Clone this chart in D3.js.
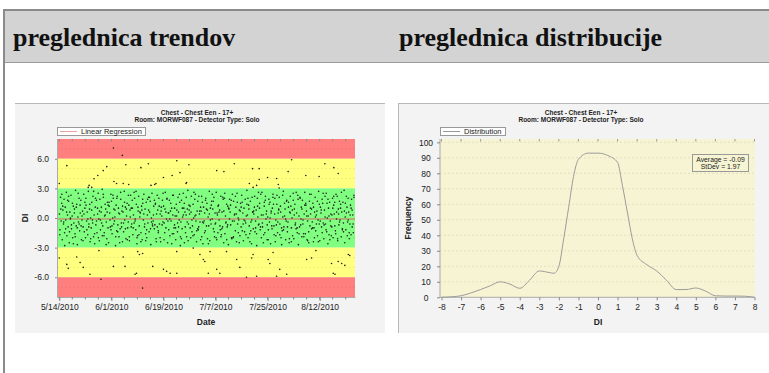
<!DOCTYPE html>
<html>
<head>
<meta charset="utf-8">
<script src="https://cdn.jsdelivr.net/npm/d3@7"></script>
<style>
body { margin: 0; background: #fff; }
svg { display: block; }
</style>
</head>
<body>
<script>
// header texts
var headers = ["preglednica trendov", "preglednica distribucije"];
var titleLine1 = "Chest  -  Chest Een  -  17+";
var titleLine2 = "Room: MORWF087  -  Detector Type: Solo";

// trend chart: x tick dates, y ticks, band limits
var dateTicks = ["2010-05-14", "2010-06-01", "2010-06-19", "2010-07-07", "2010-07-25", "2010-08-12"];
var diTicks = [6, 3, 0, -3, -6];
var bands = [[6, 8, "#ff7f7f"], [3, 6, "#ffff80"], [-3, 3, "#80ff80"], [-6, -3, "#ffff80"], [-8, -6, "#ff7f7f"]];
var regression = -0.1;

// readings outside the green band: [days after 5/14/2010, DI]
var outliers = [[18.7,7.09],[21.8,6.34],[2.6,5.3],[16.4,5.2],[15.2,4.8],[13.3,4.3],[12,3.98],[10,3.1],[11.2,3.1],
  [0,3.5],[23,5.4],[18.9,3.7],[19.8,3.5],[28.2,5.1],[30.8,5.5],[31.7,3.3],[33.4,3.5],[36,4.1],[39,4.3],
  [40.6,5.8],[41.7,4.6],[43.8,3.5],[44.8,5.4],[54.4,4.8],[56.9,4.7],[60.5,5.5],[66.8,5.0],[69.1,5.0],
  [72,4.1],[75.1,4.0],[76,3.04],[79.1,4.7],[80.3,5.9],[85.2,4.3],[89.8,4.2],[91.8,5.5],[94.9,5.1],[96.4,4.5],
  [65.7,3.5],[67,3.1],[68.2,3.3],[10.3,3.3],[22.1,3.5],[24,3.4],[33,3.4],[44,3.6],[69.1,3.9],[75.7,3.4],
  [0,-4.05],[2.6,-4.7],[3.1,-5.1],[6,-3.95],[7.2,-4.5],[8.3,-5.0],[10.6,-5.7],[13.7,-3.3],[14.4,-6.2],
  [18.7,-4.9],[22.1,-3.95],[22.7,-4.9],[26.2,-5.7],[26.7,-5.6],[27.1,-3.4],[27.7,-3.7],[28.8,-3.6],
  [28.8,-7.1],[32.3,-4.9],[36,-5.2],[37.1,-5.4],[38.3,-5.6],[40.6,-5.6],[40.6,-3.4],[46.3,-3.05],
  [48.6,-3.7],[49.8,-4.2],[50.3,-4.4],[51.5,-5.6],[52.1,-3.4],[54.4,-5.2],[55.5,-5.6],[57.8,-3.4],
  [61.3,-4.2],[62.4,-5.0],[64.7,-6.0],[66.5,-4.05],[67,-3.7],[68.2,-5.9],[72.2,-4.2],[72.8,-4.6],
  [73.9,-3.5],[75.1,-5.9],[76.2,-5.2],[78.6,-5.7],[85.5,-4.2],[87.2,-4.05],[88.7,-3.3],[94.1,-4.6],
  [94.7,-5.6],[95.3,-5.7],[96.4,-4.4],[97.6,-4.6],[98.7,-4.8],[99.9,-3.7],[100.4,-3.8]];

// readings inside the green band, one list per day starting 5/14/2010 (morning exams)
var greenByDay = [
  [0.4,-1.2,2.1,-0.3,1.5],[-2.2,0.8,-0.6,1.9,-1.5],[1.1,-0.2,2.6,-1.8,0.3],[-0.9,1.7,-2.5,0.6,-0.1],
  [2.3,-1.1,0.2,-2.0,1.2],[-0.5,0.9,-1.6,2.8,-0.8],[1.4,-2.7,0.1,-0.4,2.0],[-1.3,0.5,1.8,-2.2,-0.2],
  [0.7,-0.9,2.4,-1.4,1.0],[-2.0,1.3,-0.3,0.6,-1.7],[2.7,-0.6,0.9,-2.4,0.0],[-1.0,1.6,-0.2,2.2,-1.9],
  [0.3,-2.6,1.1,-0.7,1.8],[-1.5,0.4,2.5,-0.1,-2.3],[1.9,-1.2,0.6,-0.5,2.9],[-0.8,2.1,-1.8,0.2,1.4],
  [0.9,-0.4,-2.1,1.6,-1.0],[-2.5,1.2,0.5,-0.9,2.4],[1.7,-1.6,0.0,2.0,-0.6],[-0.3,0.8,-2.8,1.3,-1.3],
  [2.2,-0.7,1.0,-1.9,0.4],[-1.1,1.9,-0.5,0.7,-2.4],[0.6,-1.4,2.7,-0.2,1.1],[-2.1,0.2,1.5,-1.0,-0.4],
  [1.3,-2.3,0.8,2.3,-0.9],[-0.6,1.0,-1.7,0.3,2.6],[2.0,-0.1,-1.2,1.4,-2.6],[-1.8,0.7,2.2,-0.8,0.1],
  [0.5,-1.5,1.2,-2.2,1.9],[-0.2,2.4,-0.9,0.9,-1.6],[1.6,-2.0,0.3,-0.5,2.1],[-1.4,0.6,1.7,-2.7,0.0],
  [2.5,-0.8,-0.3,1.2,-1.1],[-0.7,1.5,-2.1,0.4,2.3],[0.8,-1.3,2.0,-0.6,-2.0],[-2.4,1.1,0.2,1.8,-0.4],
  [1.2,-0.5,-1.5,2.6,0.6],[-0.1,2.0,-2.5,0.5,-1.2],[1.8,-1.8,0.7,-0.3,1.0],[-1.6,0.3,2.3,-1.0,-0.7],
  [0.2,-2.2,1.4,0.8,-1.4],[2.1,-0.9,-0.2,1.6,-2.8],[-0.4,1.8,-1.1,0.1,2.5],[1.0,-2.5,0.6,-1.5,0.3],
  [-1.9,0.9,2.8,-0.6,1.3],[0.4,-1.0,-2.0,2.2,-0.2],[-0.8,1.4,0.0,-1.7,1.9],[2.4,-0.3,-2.4,0.7,-1.1],
  [-1.2,2.2,0.4,-0.4,1.1],[0.7,-1.9,1.6,-2.6,-0.5],[-0.3,0.5,-1.3,2.0,0.9],[1.5,-2.1,0.1,-0.8,2.7],
  [-2.3,1.0,-0.6,1.7,-0.1],[0.9,-1.1,2.1,-1.9,0.5],[-0.5,2.6,-2.2,0.3,-1.5],[1.3,-0.2,0.8,-1.2,2.2],
  [-1.7,0.6,-0.9,1.9,-2.5],[2.0,-1.6,0.2,-0.4,1.4],[-0.9,1.2,-2.7,0.9,-0.1],[0.6,-0.7,1.8,-2.1,2.4],
  [-2.0,1.7,-0.3,0.4,-1.3],[1.1,-2.4,2.5,-0.6,0.0],[-0.2,0.8,-1.8,1.5,-0.9],[2.3,-1.3,0.5,-2.3,1.0],
  [-1.4,1.9,-0.5,0.2,2.8],[0.3,-2.0,1.3,-0.8,-1.6],[1.7,-0.4,-2.6,2.1,0.6],[-1.1,0.4,1.1,-1.4,-0.3],
  [0.8,-2.8,2.0,0.1,-0.7],[-0.6,1.5,-1.2,2.4,-2.0],[2.6,-0.9,0.3,-1.7,1.2],[-1.5,2.2,-0.1,0.7,-2.2],
  [0.1,-1.2,1.9,-0.4,1.6],[-2.6,0.7,-0.8,1.0,2.1],[1.4,-1.7,0.4,-2.4,-0.2],[-0.7,2.3,-1.5,0.5,0.9],
  [2.1,-0.6,1.2,-2.0,-1.0],[-1.3,0.1,2.7,-0.9,1.5],[0.9,-2.2,-0.3,1.8,-1.4],[-0.4,1.6,-2.5,0.6,2.2],
  [1.2,-1.0,0.0,-1.8,2.5],[-2.1,0.9,1.4,-0.5,-1.1],[0.5,-1.5,2.3,-2.7,0.2],[-0.9,2.0,-0.7,1.1,-1.9],
  [1.8,-0.2,-1.6,0.4,2.6],[-1.6,1.3,0.7,-2.2,-0.3],[0.2,-2.5,1.7,-0.8,1.0],[2.4,-1.1,-0.4,1.5,-2.4],
  [-1.0,0.6,2.1,-1.3,0.3],[0.7,-1.8,-0.2,2.7,-0.6],[-2.3,1.1,0.5,-0.9,1.9],[1.5,-0.5,-2.1,0.8,2.2],
  [-0.6,2.5,-1.4,0.0,-2.6],[1.0,-1.7,1.6,-0.3,0.4],[-1.8,0.3,2.0,-2.0,1.3],[0.4,-0.8,-1.3,2.4,-0.1],
  [2.2,-2.3,0.9,-0.7,1.7],[-0.2,1.4,-1.9,0.6,-1.2],[1.6,-1.4,2.8,-2.5,0.1],[-1.2,0.5,1.1,-0.4,2.0],
  [0.6,-2.1,-0.6,1.3,-1.7],[1.9,-0.9,0.3,-1.5,2.3]];

// more readings inside the green band, per day (afternoon exams)
var greenByDayLate = [
  [-1.7,0.9,2.4],[1.2,-0.4,-2.8],[-1.1,0.6,1.8],[2.2,-1.4,0.0],[-0.7,1.5,-2.6],[0.5,-1.9,1.1],
  [-1.0,2.5,-0.6],[1.3,-0.8,0.2],[-2.3,0.4,1.6],[2.0,-1.2,-0.1],[-0.9,1.4,-2.1],[0.8,-0.5,2.7],
  [-1.6,2.0,-0.3],[1.0,-2.0,0.7],[-0.2,1.1,-1.8],[2.4,-1.5,0.3],[-2.7,0.6,1.3],[1.6,-0.2,-1.2],
  [-0.8,2.3,0.9],[0.1,-1.9,2.0],[-1.4,0.5,-2.5],[2.6,-0.9,1.2],[-0.5,1.6,-1.1],[0.9,-2.2,2.3],
  [-1.9,0.1,1.0],[1.8,-1.0,-0.5],[-0.3,2.7,-2.0],[1.1,-1.7,0.6],[-2.4,0.8,1.5],[0.4,-0.6,-2.3],
  [-1.2,1.9,0.8],[2.1,-1.1,-0.4],[-0.6,0.3,1.8],[1.4,-2.4,-0.9],[-1.5,1.2,0.4],[0.7,-0.7,2.5],
  [-2.2,0.9,-1.0],[1.9,-0.3,0.5],[-0.1,1.5,-2.6],[2.3,-1.6,1.0],[-1.0,0.2,-0.5],[0.6,2.4,-1.9],
  [-2.1,1.0,0.3],[1.5,-0.9,2.1],[-0.4,-2.3,0.8],[1.2,0.6,-1.4],[-1.8,2.6,0.2],[0.3,-1.3,1.7],
  [-0.9,0.7,-2.2],[2.2,-0.4,1.1],[-1.5,1.8,-0.8],[0.8,-2.6,0.4],[-0.2,1.3,2.4],[1.7,-1.4,-0.6],
  [-2.0,0.5,1.2],[0.6,-0.8,-1.9],[-1.1,2.1,0.7],[2.5,-0.5,-2.2],[-0.7,1.0,1.9],[1.3,-2.0,-0.3],
  [-1.9,0.3,2.2],[0.4,1.6,-1.5],[-2.5,0.7,1.1],[1.6,-0.6,-0.2],[-0.3,-1.7,1.4],[2.0,0.9,-2.4],
  [-1.3,-0.2,0.6],[0.7,2.2,-1.0],[-1.6,1.2,2.6],[1.0,-0.9,0.3],[-0.5,-2.5,1.6],[1.8,0.4,-0.7],
  [-2.2,1.4,0.0],[0.5,-1.1,2.4],[-0.8,2.0,-1.8],[1.4,-0.4,0.8],[-1.7,0.6,-2.7],[2.3,-1.2,0.2],
  [-0.1,1.7,-0.9],[1.1,-2.1,0.5],[-2.4,0.8,1.8],[0.3,-0.7,2.6],[-1.0,1.9,-1.6],[2.1,-0.1,0.9],
  [-0.6,-1.9,1.3],[1.5,0.2,-2.3],[-1.4,2.4,0.4],[0.9,-1.0,1.1],[-2.0,0.1,-0.6],[1.7,-2.4,1.4],
  [-0.3,0.8,-1.5],[2.5,-0.7,0.1],[-1.2,1.5,1.9],[0.2,-2.2,-0.8],[-0.9,1.0,2.2],[1.6,-1.6,0.6],
  [-2.1,0.4,-0.4],[1.0,2.6,-1.1],[-0.5,0.7,1.5],[2.2,-1.8,-0.2],[-1.5,0.3,1.0],[0.8,-0.6,2.1]];

// distribution chart
var distDI = [-8,-7.5,-7,-6.5,-6,-5.5,-5,-4.5,-4,-3.5,-3,-2.5,-2.25,-2,-1.75,-1.5,-1.25,-1,-0.5,0,0.5,1,1.25,1.5,1.75,2,2.5,3,3.5,4,4.5,5,5.5,6,6.5,7,7.5,8];
var distFreq = [0,0.3,1,2.8,5,7.5,10,8.5,5.8,11,17,16,15.5,20,38,58,78,89,93,93,91.5,87,72,55,38,27,21,17,11,5,5,6,4,1,0.8,0.8,0.7,0];
var freqTicks = [0,10,20,30,40,50,60,70,80,90,100];
var diAxisTicks = d3.range(-8, 9);
var statsText = ["Average = -0.09", "StDev = 1.97"];

var fmt = d3.formatLocale({decimal: ".", thousands: ",", grouping: [3], currency: ["$", ""], minus: "-"}).format;

var width = 769, height = 373;
var svg = d3.select("body").append("svg")
    .attr("width", width)
    .attr("height", height);

// page header
svg.append("rect").attr("x", 4).attr("y", 10).attr("width", 765).attr("height", 53).attr("fill", "#d3d3d3");
svg.append("line").attr("x1", 3).attr("x2", 769).attr("y1", 10).attr("y2", 10).attr("stroke", "#8a8a8a").attr("stroke-width", 2);
svg.append("line").attr("x1", 4).attr("x2", 769).attr("y1", 62.5).attr("y2", 62.5).attr("stroke", "#9a9a9a");
svg.append("line").attr("x1", 4).attr("x2", 4).attr("y1", 9).attr("y2", 373).attr("stroke", "#8a8a8a").attr("stroke-width", 2);
svg.selectAll("text.hdr")
    .data(headers)
    .enter()
    .append("text")
    .attr("class", "hdr")
    .attr("x", function(d, i){ return i === 0 ? 13 : 399; })
    .attr("y", 46)
    .style("font-family", "'Liberation Serif', 'Times New Roman', serif")
    .style("font-weight", "bold")
    .style("font-size", "26px")
    .style("fill", "#111")
    .text(function(d){ return d; });

// chart panels
svg.append("rect").attr("x", 15).attr("y", 103).attr("width", 370).attr("height", 230).attr("fill", "#f3f3f3");
svg.append("line").attr("x1", 15).attr("x2", 385).attr("y1", 103.5).attr("y2", 103.5).attr("stroke", "#b8b8b8");
svg.append("rect").attr("x", 398).attr("y", 103).attr("width", 371).attr("height", 230).attr("fill", "#f3f3f3");
svg.append("line").attr("x1", 398).attr("x2", 769).attr("y1", 103.5).attr("y2", 103.5).attr("stroke", "#b8b8b8");
svg.append("line").attr("x1", 398.5).attr("x2", 398.5).attr("y1", 103).attr("y2", 333).attr("stroke", "#b8b8b8");

var sans = "'Liberation Sans', Arial, sans-serif";

function chartTitle(cx) {
    svg.append("text").attr("x", cx).attr("y", 114.5).attr("text-anchor", "middle")
        .style("font-family", sans).style("font-weight", "bold").style("font-size", "6.5px").style("fill", "#222")
        .text(titleLine1);
    svg.append("text").attr("x", cx).attr("y", 121.5).attr("text-anchor", "middle")
        .style("font-family", sans).style("font-weight", "bold").style("font-size", "6.5px").style("fill", "#222")
        .text(titleLine2);
}

function legend(x, w, color, label) {
    svg.append("rect").attr("x", x + 0.5).attr("y", 127.5).attr("width", w).attr("height", 8)
        .attr("fill", "#fff").attr("stroke", "#999");
    svg.append("line").attr("x1", x + 3).attr("x2", x + 20).attr("y1", 131.5).attr("y2", 131.5)
        .attr("stroke", color);
    svg.append("text").attr("x", x + 24).attr("y", 134.3)
        .style("font-family", sans).style("font-size", "7.5px").style("fill", "#222")
        .text(label);
}

// ---------- trend chart ----------
chartTitle(197);
legend(57, 88, "#f2a0a0", "Linear Regression");

var x1 = d3.scaleTime()
    .domain([new Date(2010, 4, 13, 5), new Date(2010, 7, 24, 5)])
    .range([57, 355]);
var y1 = d3.scaleLinear().domain([-8, 8]).range([297, 139]);
var day0 = new Date(2010, 4, 14);
function dayToDate(d) { return new Date(day0.getTime() + d * 864e5); }

svg.selectAll("rect.band")
    .data(bands)
    .enter()
    .append("rect")
    .attr("class", "band")
    .attr("x", 57)
    .attr("width", 298)
    .attr("y", function(d){ return y1(d[1]); })
    .attr("height", function(d){ return y1(d[0]) - y1(d[1]); })
    .attr("fill", function(d){ return d[2]; });

svg.append("g").selectAll("line")
    .data(d3.range(-7, 8).filter(function(v){ return v % 3 !== 0; }))
    .enter()
    .append("line")
    .attr("x1", 57).attr("x2", 355)
    .attr("y1", function(d){ return y1(d); }).attr("y2", function(d){ return y1(d); })
    .attr("stroke", "#000").attr("stroke-opacity", 0.07).attr("stroke-dasharray", "2,2");

var points = [];
greenByDay.forEach(function(vals, d) {
    vals.forEach(function(v, j) { points.push([d + (j + 0.2) / vals.length, v]); });
});
greenByDayLate.forEach(function(vals, d) {
    vals.forEach(function(v, j) { points.push([d + (j + 0.6) / vals.length, v]); });
});
points = points.concat(outliers);

svg.append("line")
    .attr("x1", 57).attr("x2", 355)
    .attr("y1", y1(regression)).attr("y2", y1(regression))
    .attr("stroke", "#d86a6a").attr("stroke-width", 1);

svg.append("g").selectAll("circle")
    .data(points)
    .enter()
    .append("circle")
    .attr("cx", function(d){ return x1(dayToDate(d[0])); })
    .attr("cy", function(d){ return y1(d[1]); })
    .attr("r", 0.8)
    .style("fill", "#1a1a1a");

var minorDates = d3.range(0, 103, 4.5).map(dayToDate);
var xAxis1 = d3.axisBottom(x1)
    .tickValues(dateTicks.map(function(s){ return d3.timeParse("%Y-%m-%d")(s); }))
    .tickFormat(d3.timeFormat("%-m/%-d/%Y"))
    .tickSize(4)
    .tickSizeOuter(0);
var gx1 = svg.append("g").attr("transform", "translate(0,297)").call(xAxis1);
gx1.select(".domain").attr("stroke", "#aaa");
gx1.selectAll(".tick line").attr("stroke", "#888");
gx1.selectAll("text").style("font-family", sans).style("font-size", "8.5px").style("fill", "#222").attr("y", 7);

svg.append("g").selectAll("line")
    .data(minorDates)
    .enter()
    .append("line")
    .attr("x1", function(d){ return x1(d); }).attr("x2", function(d){ return x1(d); })
    .attr("y1", 139).attr("y2", 141.5)
    .attr("stroke", "#888");
svg.append("g").selectAll("line")
    .data(minorDates)
    .enter()
    .append("line")
    .attr("x1", function(d){ return x1(d); }).attr("x2", function(d){ return x1(d); })
    .attr("y1", 297).attr("y2", 299.5)
    .attr("stroke", "#888");

var yAxis1 = d3.axisLeft(y1)
    .tickValues(diTicks)
    .tickFormat(fmt(".1f"))
    .tickSize(2)
    .tickSizeOuter(0);
var gy1 = svg.append("g").attr("transform", "translate(57,0)").call(yAxis1);
gy1.select(".domain").attr("stroke", "#aaa");
gy1.selectAll(".tick line").attr("stroke", "#888");
gy1.selectAll("text").style("font-family", sans).style("font-size", "8.5px").style("fill", "#222").attr("x", -8);

svg.append("text").attr("x", 206).attr("y", 325).attr("text-anchor", "middle")
    .style("font-family", sans).style("font-weight", "bold").style("font-size", "8.5px").style("fill", "#222")
    .text("Date");
svg.append("text").attr("transform", "translate(28,218) rotate(-90)").attr("text-anchor", "middle")
    .style("font-family", sans).style("font-weight", "bold").style("font-size", "8.5px").style("fill", "#222")
    .text("DI");

// ---------- distribution chart ----------
chartTitle(581);
legend(440, 65, "#999", "Distribution");

var x2 = d3.scaleLinear().domain([-8, 8]).range([441.5, 754.5]);
var y2 = d3.scaleLinear().domain([0, 102]).range([297.3, 139.2]);

svg.append("rect").attr("x", 440).attr("y", 139).attr("width", 315).attr("height", 158.3).attr("fill", "#f6f4d2");

svg.append("g").selectAll("line")
    .data(freqTicks.slice(1))
    .enter()
    .append("line")
    .attr("x1", 440).attr("x2", 755)
    .attr("y1", function(d){ return y2(d); }).attr("y2", function(d){ return y2(d); })
    .attr("stroke", "#000").attr("stroke-opacity", 0.08).attr("stroke-dasharray", "2,2");

svg.append("g").selectAll("line")
    .data(diAxisTicks)
    .enter()
    .append("line")
    .attr("x1", function(d){ return x2(d); }).attr("x2", function(d){ return x2(d); })
    .attr("y1", 139).attr("y2", 141.5)
    .attr("stroke", "#999");

var xAxis2 = d3.axisBottom(x2).tickValues(diAxisTicks).tickFormat(fmt("d")).tickSize(3).tickSizeOuter(0);
var gx2 = svg.append("g").attr("transform", "translate(0,297.3)").call(xAxis2);
gx2.select(".domain").attr("stroke", "#aaa").attr("d", "M440,0H755");
gx2.selectAll(".tick line").attr("stroke", "#888");
gx2.selectAll("text").style("font-family", sans).style("font-size", "8.5px").style("fill", "#222").attr("y", 7);

var yAxis2 = d3.axisLeft(y2).tickValues(freqTicks).tickSize(3).tickSizeOuter(0);
var gy2 = svg.append("g").attr("transform", "translate(440,0)").call(yAxis2);
gy2.select(".domain").attr("stroke", "#aaa").attr("d", "M0,139V297.3");
gy2.selectAll(".tick line").attr("stroke", "#888");
gy2.selectAll("text").style("font-family", sans).style("font-size", "8.5px").style("fill", "#222")
    .attr("text-anchor", "middle").attr("x", -14);

var line = d3.line()
    .x(function(d, i){ return x2(distDI[i]); })
    .y(function(d){ return y2(d); })
    .curve(d3.curveMonotoneX);
svg.append("path")
    .datum(distFreq)
    .attr("d", line)
    .attr("fill", "none")
    .attr("stroke", "#9c9c9c")
    .attr("stroke-width", 1);

svg.append("rect").attr("x", 692.5).attr("y", 154.5).attr("width", 56).attr("height", 17)
    .attr("fill", "#f6f4d2").attr("stroke", "#999");
svg.selectAll("text.stat")
    .data(statsText)
    .enter()
    .append("text")
    .attr("class", "stat")
    .attr("x", 720.5)
    .attr("y", function(d, i){ return 161.5 + i * 7.5; })
    .attr("text-anchor", "middle")
    .style("font-family", sans).style("font-size", "6.8px").style("fill", "#222")
    .text(function(d){ return d; });

svg.append("text").attr("x", 598).attr("y", 325).attr("text-anchor", "middle")
    .style("font-family", sans).style("font-weight", "bold").style("font-size", "8.5px").style("fill", "#222")
    .text("DI");
svg.append("text").attr("transform", "translate(411,218) rotate(-90)").attr("text-anchor", "middle")
    .style("font-family", sans).style("font-weight", "bold").style("font-size", "8.5px").style("fill", "#222")
    .text("Frequency");
</script>
</body>
</html>
